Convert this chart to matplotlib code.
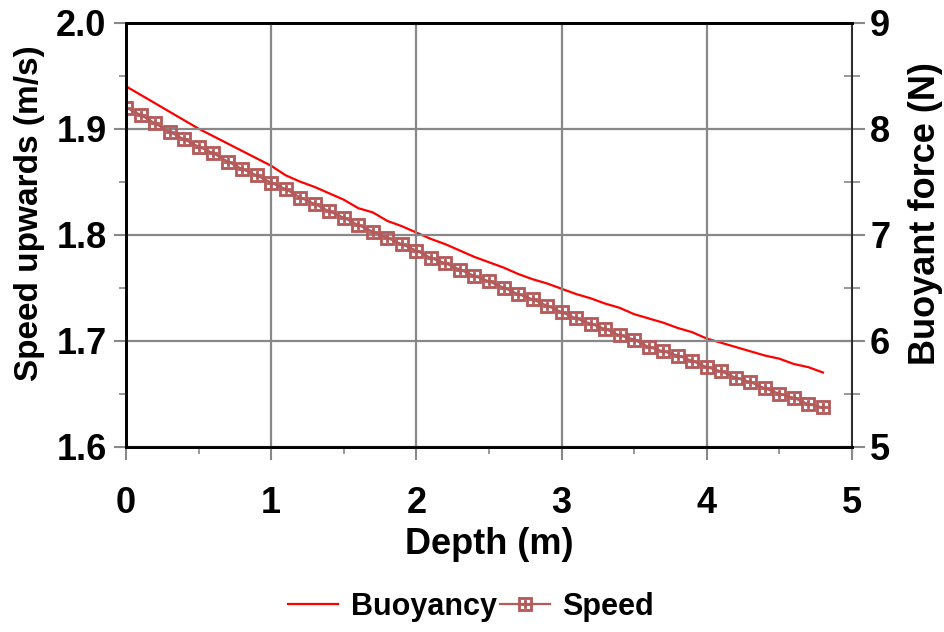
import matplotlib
matplotlib.use("Agg")
import matplotlib.pyplot as plt
from matplotlib.ticker import MultipleLocator

plt.rcParams['font.family'] = ['Liberation Sans', 'DejaVu Sans']
plt.rcParams['font.weight'] = 'bold'

# depth in metres, sampled every 0.1 m
depth = [round(i * 0.1, 1) for i in range(49)]

# upward speed (m/s)
speed = [1.920, 1.913, 1.905, 1.897, 1.890, 1.883, 1.877, 1.869, 1.862, 1.856,
         1.849, 1.843, 1.835, 1.829, 1.822, 1.816, 1.809, 1.803, 1.797, 1.791,
         1.785, 1.778, 1.773, 1.767, 1.761, 1.756, 1.750, 1.744, 1.739, 1.733,
         1.727, 1.721, 1.716, 1.711, 1.705, 1.701, 1.694, 1.690, 1.686, 1.681,
         1.675, 1.671, 1.665, 1.661, 1.655, 1.650, 1.646, 1.640, 1.637]

# buoyant force (N)
buoyancy = [8.40, 8.32, 8.24, 8.16, 8.08, 8.00, 7.93, 7.86, 7.79, 7.72,
            7.65, 7.56, 7.50, 7.45, 7.39, 7.33, 7.25, 7.21, 7.13, 7.08,
            7.02, 6.96, 6.91, 6.85, 6.79, 6.74, 6.69, 6.63, 6.58, 6.54,
            6.49, 6.44, 6.40, 6.35, 6.31, 6.25, 6.21, 6.17, 6.12, 6.08,
            6.02, 5.98, 5.94, 5.90, 5.86, 5.83, 5.78, 5.75, 5.70]

fig = plt.figure(figsize=(9.44, 6.32), dpi=100)
ax = fig.add_axes([126/944, 1 - 446.7/632, 726/944, 424/632])
ax2 = ax.twinx()

grid_col = '#888888'
speed_col = '#b55a5a'

ax.set_xlim(0, 5)
ax.set_ylim(1.6, 2.0)
ax2.set_ylim(5, 9)

ax.xaxis.set_major_locator(MultipleLocator(1))
ax.xaxis.set_minor_locator(MultipleLocator(0.5))
ax.yaxis.set_major_locator(MultipleLocator(0.1))
ax.yaxis.set_minor_locator(MultipleLocator(0.05))
ax2.yaxis.set_major_locator(MultipleLocator(1))
ax2.yaxis.set_minor_locator(MultipleLocator(0.5))
ax.yaxis.set_major_formatter('{x:.1f}')
ax2.yaxis.set_major_formatter('{x:.0f}')

ax.grid(True, which='major', color=grid_col, linewidth=1.6)
ax.set_axisbelow(True)

ax.tick_params(which='major', direction='out', length=9, width=1.5,
               color=grid_col, labelsize=26)
ax.tick_params(axis='y', which='major', pad=5)
ax.tick_params(axis='x', which='major', pad=19)
ax.tick_params(which='minor', direction='out', length=5, width=1.2,
               color=grid_col)
ax2.tick_params(which='major', direction='inout', length=18, width=1.5,
                color=grid_col, labelsize=26, pad=4)
ax2.tick_params(which='minor', direction='inout', length=12, width=1.2,
                color=grid_col)

for a in (ax, ax2):
    for side in ('left', 'bottom', 'top'):
        a.spines[side].set_linewidth(2)
        a.spines[side].set_color('black')
    a.spines['right'].set_linewidth(1.2)
    a.spines['right'].set_color('#222222')

l2, = ax2.plot(depth, buoyancy, color='red', linewidth=1.6, label='Buoyancy')
l1, = ax.plot(depth, speed, color=speed_col, linewidth=1.6,
              marker='$\\boxplus$', markersize=10, markeredgewidth=0.6,
              label='Speed')
ax.set_zorder(ax2.get_zorder() + 1)
ax.patch.set_visible(False)

ax.set_xlabel('Depth (m)', fontsize=26, fontweight='bold')
ax.xaxis.set_label_coords(0.5, -0.19)
ax.set_ylabel('Speed upwards (m/s)', fontsize=24, fontweight='bold')
ax.yaxis.set_label_coords(-0.112, 0.55)
ax2.set_ylabel('Buoyant force (N)', fontsize=26, fontweight='bold')
ax2.yaxis.set_label_coords(1.077, 0.55)

fig.legend(handles=[l2, l1], loc='center', bbox_to_anchor=(471/944, 1 - 607/632),
           ncol=2, frameon=False, fontsize=22, handlelength=1.65,
           handletextpad=0.4, columnspacing=0.1)

fig.savefig('out.png', dpi=100)
